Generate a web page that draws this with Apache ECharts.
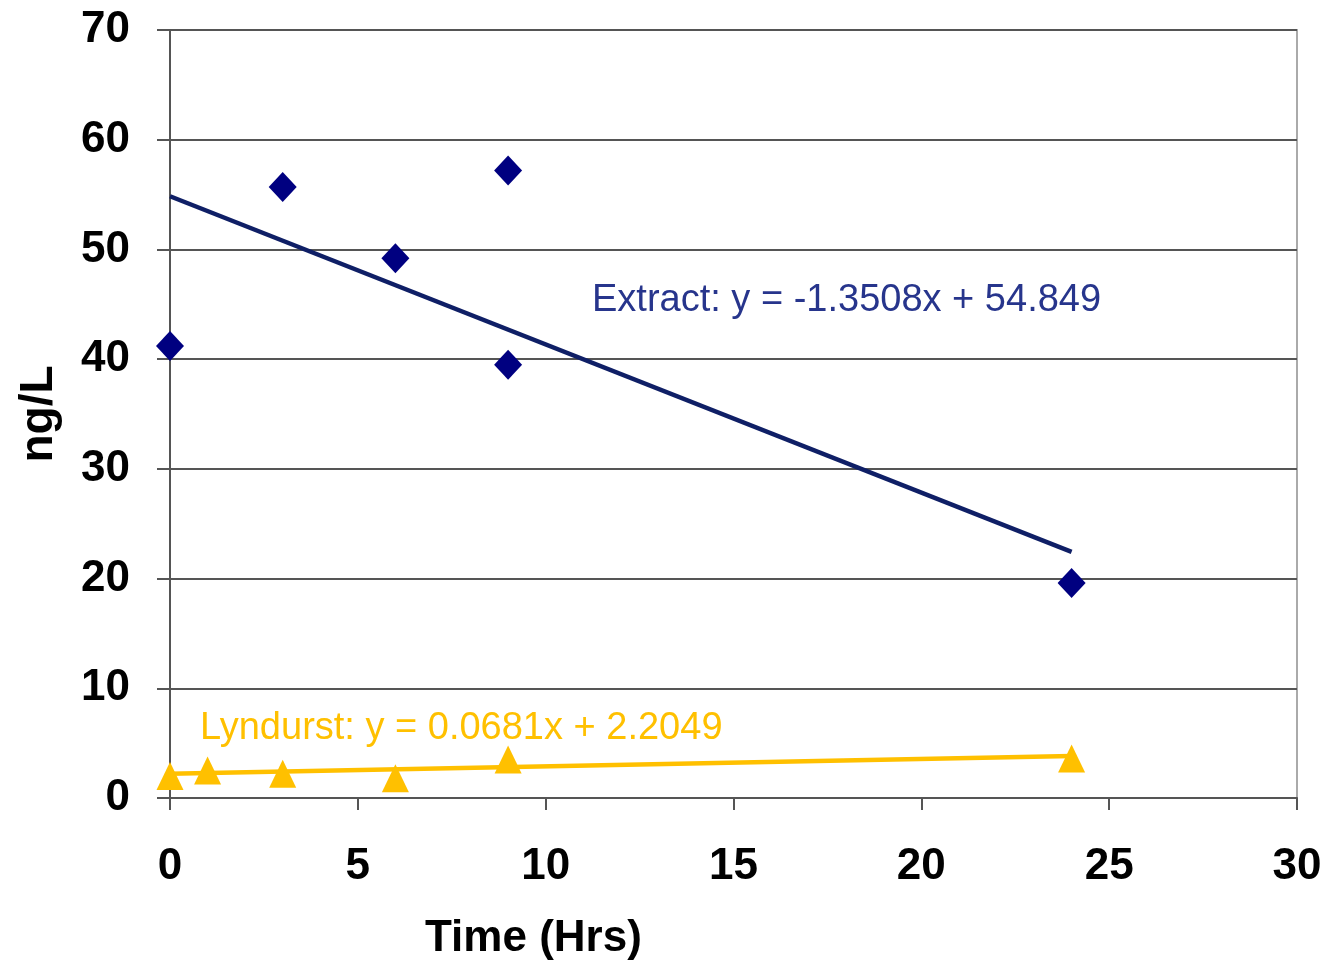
<!DOCTYPE html>
<html><head><meta charset="utf-8">
<script src="https://cdn.jsdelivr.net/npm/echarts@6/dist/echarts.min.js"></script>
<style>html,body{margin:0;padding:0;background:#fff}#c{width:1328px;height:966px}</style>
</head><body><div id="c"></div>
<script>
// Data
const extractX = [0, 3, 6, 9, 9, 24];
const extractY = [41.2, 55.7, 49.2, 57.2, 39.5, 19.6];
const lyndurstX = [0, 1, 3, 6, 9, 24];
const lyndurstY = [2.0, 2.5, 2.2, 1.8, 3.5, 3.6];
// Trendline endpoints (from the chart's fitted equations)
const extractTrendX = [0, 24];
const extractTrendY = [54.849, 22.430];
const lyndurstTrendX = [0, 24];
const lyndurstTrendY = [2.2049, 3.8393];
const xTicks = [0, 5, 10, 15, 20, 25, 30];
const yTicks = [0, 10, 20, 30, 40, 50, 60, 70];
const extractLabel = 'Extract: y = -1.3508x + 54.849';
const lyndurstLabel = 'Lyndurst: y = 0.0681x + 2.2049';

const zip = (a, b) => a.map((v, i) => [v, b[i]]);
const chart = echarts.init(document.getElementById('c'));
const font = '"Liberation Sans", Arial, sans-serif';
chart.setOption({
  animation: false,
  grid: { left: 170, top: 30, right: 31, bottom: 168, show: true, borderColor: '#aaa', borderWidth: 2, backgroundColor: 'transparent' },
  xAxis: {
    type: 'value', min: xTicks[0], max: xTicks[xTicks.length - 1], interval: 5,
    axisLine: { show: true, onZero: false, lineStyle: { color: '#555', width: 2 } },
    axisTick: { show: true, inside: false, length: 12, lineStyle: { color: '#555', width: 2 } },
    splitLine: { show: false },
    axisLabel: { fontFamily: font, fontWeight: 'bold', fontSize: 44, color: '#000', margin: 47 }
  },
  yAxis: {
    type: 'value', min: yTicks[0], max: yTicks[yTicks.length - 1], interval: 10,
    name: 'ng/L', nameLocation: 'middle', nameGap: 108, nameRotate: 90,
    nameTextStyle: { fontFamily: font, fontWeight: 'bold', fontSize: 46, color: '#000' },
    axisLine: { show: true, onZero: false, lineStyle: { color: '#555', width: 2 } },
    axisTick: { show: true, inside: false, length: 13, lineStyle: { color: '#555', width: 2 } },
    splitLine: { show: true, lineStyle: { color: '#555', width: 2 } },
    axisLabel: { fontFamily: font, fontWeight: 'bold', fontSize: 44, color: '#000', margin: 40 }
  },
  graphic: [
    { type: 'text', left: 425, top: 917, style: { text: 'Time (Hrs)', font: 'bold 44px ' + font, fill: '#000' } },
    { type: 'text', left: 592, top: 282, style: { text: extractLabel, font: '38px ' + font, fill: '#27358C' } },
    { type: 'text', left: 200, top: 710, style: { text: lyndurstLabel, font: '38px ' + font, fill: '#FFC000' } }
  ],
  series: [
    { type: 'line', data: zip(extractTrendX, extractTrendY), symbol: 'none', lineStyle: { color: '#0F1F66', width: 4.5 }, z: 2 },
    { type: 'line', data: zip(lyndurstTrendX, lyndurstTrendY), symbol: 'none', lineStyle: { color: '#FFC000', width: 4.5 }, z: 2 },
    { type: 'scatter', data: zip(extractX, extractY), symbol: 'diamond', symbolSize: [28, 30], itemStyle: { color: '#000080', opacity: 1 }, z: 3 },
    { type: 'scatter', data: zip(lyndurstX, lyndurstY), symbol: 'triangle', symbolSize: [27, 28], itemStyle: { color: '#FFC000', opacity: 1 }, z: 3 }
  ]
});
</script></body></html>
